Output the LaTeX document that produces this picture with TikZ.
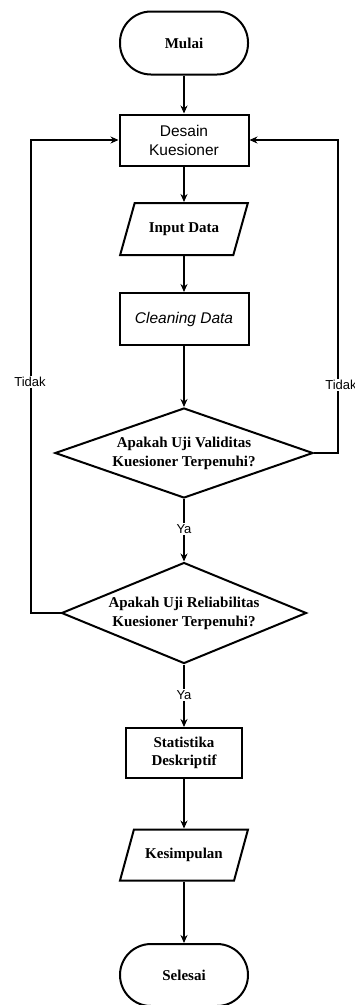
\documentclass[tikz,border=0pt]{standalone}
\usepackage{fontspec}
\setmainfont{Liberation Serif}
\setsansfont{Liberation Sans}
\usetikzlibrary{arrows.meta}
\usetikzlibrary{shapes.geometric}
\tikzset{
  arr/.style={line width=1.1pt, -{Stealth[length=8pt,width=7pt]}},
  terminal/.style={draw, line width=2pt, rounded corners=31pt, minimum width=128pt, minimum height=63pt,
    font=\fontsize{15}{18}\selectfont\bfseries},
  proses/.style={draw, line width=2pt, minimum width=129pt, minimum height=51pt, align=center,
    font=\fontsize{15}{18}\selectfont\bfseries},
  data/.style={draw, line width=2pt, trapezium, trapezium left angle=60, trapezium right angle=120,
    trapezium stretches=true, minimum width=128pt, minimum height=52pt,
    font=\fontsize{15}{18}\selectfont\bfseries},
  keputusan/.style={draw, line width=2pt, diamond, inner sep=0pt, align=center,
    font=\fontsize{15}{19}\selectfont\bfseries},
  teks/.style={fill=white, inner sep=1pt, font=\sffamily\fontsize{13}{15}\selectfont}
}
\begin{document}
\begin{tikzpicture}[x=1pt, y=-1pt]
      \useasboundingbox (0,0) rectangle (355,1005);

      \node [terminal] (mulai) at (184,43) {Mulai};
      \node [proses, font=\sffamily\fontsize{15.5}{19}\selectfont] (desain) at (184,140) {Desain\\Kuesioner};
      \node [data] (input) at (184,229) {Input Data};
      \node [proses, minimum height=52pt, font=\sffamily\itshape\fontsize{15.5}{19}\selectfont] (cleaning) at (184,319) {Cleaning Data};
      \node [keputusan, aspect=2.87, minimum width=258pt, minimum height=90pt] (validitas) at (184,453)
        {Apakah Uji Validitas\\Kuesioner Terpenuhi?};
      \node [keputusan, aspect=2.43, minimum width=245pt, minimum height=101pt] (reliabilitas) at (184,613)
        {Apakah Uji Reliabilitas\\Kuesioner Terpenuhi?};
      \node [proses, minimum width=116pt, minimum height=50pt] (statistik) at (184,753) {Statistika\\Deskriptif};
      \node [data, minimum height=51pt] (kesimpulan) at (184,855) {Kesimpulan};
      \node [terminal, minimum height=62pt] (selesai) at (184,975) {Selesai};

      \coordinate (kanan) at (338,453);
      \coordinate (kiri) at (31,613);

      \draw [arr] (mulai) -- (desain);
      \draw [arr] (desain) -- (input);
      \draw [arr] (input) -- (cleaning);
      \draw [arr] (cleaning) -- (validitas);
      \draw [arr] (validitas) -- (reliabilitas);
      \draw [arr] (reliabilitas) -- (statistik);
      \draw [arr] (statistik) -- (kesimpulan);
      \draw [arr] (kesimpulan) -- (selesai);
      \draw [arr] (validitas.east) -- (kanan) |- (desain.east);
      \draw [arr] (reliabilitas.west) -- (kiri) |- (desain.west);

      \node [teks] (ya1) at (184,529) {Ya};
      \node [teks] (ya2) at (184,695) {Ya};
      \node [teks] (tidak1) at (30,382) {Tidak};
      \node [teks] (tidak2) at (341,385) {Tidak};

    \end{tikzpicture}
\end{document}
